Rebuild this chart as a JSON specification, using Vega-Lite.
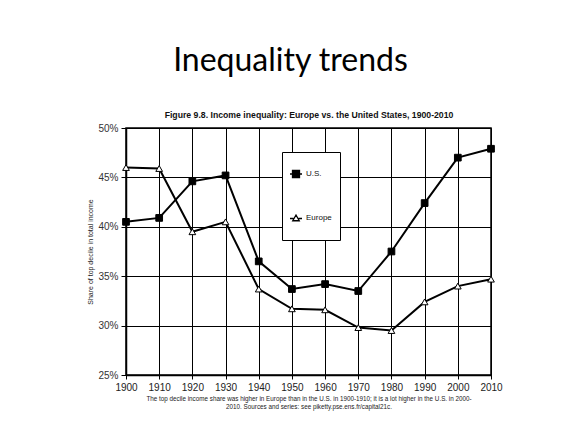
{
  "$schema": "https://vega.github.io/schema/vega-lite/v6.json",
  "width": 365,
  "height": 247,
  "autosize": "none",
  "padding": {"left": 126, "top": 128, "right": 82, "bottom": 56},
  "background": "white",
  "title": {
    "text": "Inequality trends",
    "font": "Lato",
    "fontSize": 32,
    "fontWeight": "normal",
    "color": "black",
    "anchor": "middle",
    "dx": -18,
    "offset": 32
  },
  "data": {
    "values": [
      {"year": 1900, "series": "U.S.", "share": 40.5},
      {"year": 1910, "series": "U.S.", "share": 40.9},
      {"year": 1920, "series": "U.S.", "share": 44.6},
      {"year": 1930, "series": "U.S.", "share": 45.2},
      {"year": 1940, "series": "U.S.", "share": 36.5},
      {"year": 1950, "series": "U.S.", "share": 33.7},
      {"year": 1960, "series": "U.S.", "share": 34.2},
      {"year": 1970, "series": "U.S.", "share": 33.5},
      {"year": 1980, "series": "U.S.", "share": 37.5},
      {"year": 1990, "series": "U.S.", "share": 42.4},
      {"year": 2000, "series": "U.S.", "share": 47.0},
      {"year": 2010, "series": "U.S.", "share": 47.9},
      {"year": 1900, "series": "Europe", "share": 46.0},
      {"year": 1910, "series": "Europe", "share": 45.9},
      {"year": 1920, "series": "Europe", "share": 39.5},
      {"year": 1930, "series": "Europe", "share": 40.5},
      {"year": 1940, "series": "Europe", "share": 33.7},
      {"year": 1950, "series": "Europe", "share": 31.7},
      {"year": 1960, "series": "Europe", "share": 31.6},
      {"year": 1970, "series": "Europe", "share": 29.8},
      {"year": 1980, "series": "Europe", "share": 29.5},
      {"year": 1990, "series": "Europe", "share": 32.4},
      {"year": 2000, "series": "Europe", "share": 34.0},
      {"year": 2010, "series": "Europe", "share": 34.7}
    ]
  },
  "layer": [
    {
      "encoding": {
        "x": {
          "field": "year",
          "type": "quantitative",
          "scale": {"domain": [1900, 2010], "nice": false, "zero": false},
          "axis": {
            "orient": "bottom",
            "values": [1900, 1910, 1920, 1930, 1940, 1950, 1960, 1970, 1980, 1990, 2000, 2010],
            "format": "d",
            "labelOverlap": false,
            "labelFlush": false,
            "labelFont": "Liberation Sans",
            "labelFontSize": 10,
            "labelColor": "#222",
            "labelPadding": 3,
            "grid": true,
            "gridColor": "black",
            "gridOpacity": 1,
            "gridWidth": 1,
            "domainColor": "black",
            "domainWidth": 1.5,
            "tickColor": "black",
            "tickSize": 4,
            "title": ["The top decile income share was higher in Europe than in the U.S. in 1900-1910; it is a lot higher in the U.S. in 2000-", "2010. Sources and series: see piketty.pse.ens.fr/capital21c."],
            "titleFont": "Liberation Sans",
            "titleFontSize": 6.3,
            "titleFontWeight": "normal",
            "titleColor": "#222",
            "titleLineHeight": 8,
            "titlePadding": 3
          }
        },
        "y": {
          "field": "share",
          "type": "quantitative",
          "scale": {"domain": [25, 50], "nice": false, "zero": false},
          "axis": {
            "values": [25, 30, 35, 40, 45, 50],
            "labelExpr": "datum.value + '%'",
            "labelFont": "Liberation Sans",
            "labelFontSize": 10,
            "labelColor": "#333",
            "labelPadding": 3,
            "grid": true,
            "gridColor": "black",
            "gridOpacity": 1,
            "gridWidth": 1.2,
            "domainColor": "black",
            "domainWidth": 1.5,
            "tickColor": "black",
            "tickSize": 5,
            "title": "Share of top decile in total income",
            "titleFont": "Liberation Sans",
            "titleFontSize": 7,
            "titleFontWeight": "normal",
            "titleColor": "#222",
            "titlePadding": 4
          }
        }
      },
      "layer": [
        {
          "mark": {"type": "line", "color": "black", "strokeWidth": 2},
          "encoding": {"detail": {"field": "series"}}
        },
        {
          "mark": {"type": "point", "filled": true, "stroke": "black", "strokeWidth": 1, "opacity": 1, "size": 45},
          "encoding": {
            "shape": {"condition": {"test": "datum.series === 'U.S.'", "value": "square"}, "value": "triangle-up"},
            "fill": {"condition": {"test": "datum.series === 'U.S.'", "value": "black"}, "value": "white"}
          }
        },
        {
          "mark": {"type": "point", "filled": true, "strokeWidth": 1.3, "opacity": 0},
          "encoding": {
            "shape": {
              "field": "series",
              "type": "nominal",
              "scale": {"domain": ["U.S.", "Europe"], "range": ["M-1.2,0H1.2M-0.7,-0.7H0.7V0.7H-0.7Z", "M-1.2,0.1H-0.5M0.5,0.1H1.2M0,-0.6L0.65,0.55H-0.65Z"]},
              "legend": {
                "title": null,
                "orient": "none",
                "legendX": 156,
                "legendY": 24,
                "padding": 8,
                "rowPadding": 16,
                "clipHeight": 28,
                "fillColor": "white",
                "strokeColor": "black",
                "labelFont": "Liberation Sans",
                "labelFontSize": 8,
                "labelColor": "#111",
                "symbolSize": 100,
                "symbolOpacity": 1,
                "symbolStrokeWidth": 1.3,
                "labelOffset": 4
              }
            },
            "fill": {
              "field": "series",
              "type": "nominal",
              "scale": {"domain": ["U.S.", "Europe"], "range": ["black", "white"]},
              "legend": {
                "title": null,
                "orient": "none",
                "legendX": 156,
                "legendY": 24,
                "padding": 8,
                "rowPadding": 16,
                "clipHeight": 28,
                "fillColor": "white",
                "strokeColor": "black",
                "labelFont": "Liberation Sans",
                "labelFontSize": 8,
                "labelColor": "#111",
                "symbolSize": 100,
                "symbolOpacity": 1,
                "symbolStrokeWidth": 1.3,
                "labelOffset": 4
              }
            },
            "stroke": {
              "field": "series",
              "type": "nominal",
              "scale": {"domain": ["U.S.", "Europe"], "range": ["black", "black"]},
              "legend": {
                "title": null,
                "orient": "none",
                "legendX": 156,
                "legendY": 24,
                "padding": 8,
                "rowPadding": 16,
                "clipHeight": 28,
                "fillColor": "white",
                "strokeColor": "black",
                "labelFont": "Liberation Sans",
                "labelFontSize": 8,
                "labelColor": "#111",
                "symbolSize": 100,
                "symbolOpacity": 1,
                "symbolStrokeWidth": 1.3,
                "labelOffset": 4
              }
            }
          }
        }
      ]
    },
    {
      "mark": {"type": "rule", "opacity": 0},
      "encoding": {
        "x": {
          "field": "year",
          "type": "quantitative",
          "scale": {"domain": [1900, 2010], "nice": false, "zero": false},
          "axis": {
            "orient": "top",
            "labels": false,
            "ticks": false,
            "domain": false,
            "grid": false,
            "title": "Figure 9.8. Income inequality: Europe vs. the United States, 1900-2010",
            "titleFont": "Liberation Sans",
            "titleFontSize": 8.7,
            "titleFontWeight": "bold",
            "titleColor": "#111",
            "titlePadding": 9
          }
        }
      }
    }
  ],
  "resolve": {"axis": {"x": "independent"}},
  "config": {
    "view": {"stroke": "black", "strokeWidth": 1.5}
  }
}
